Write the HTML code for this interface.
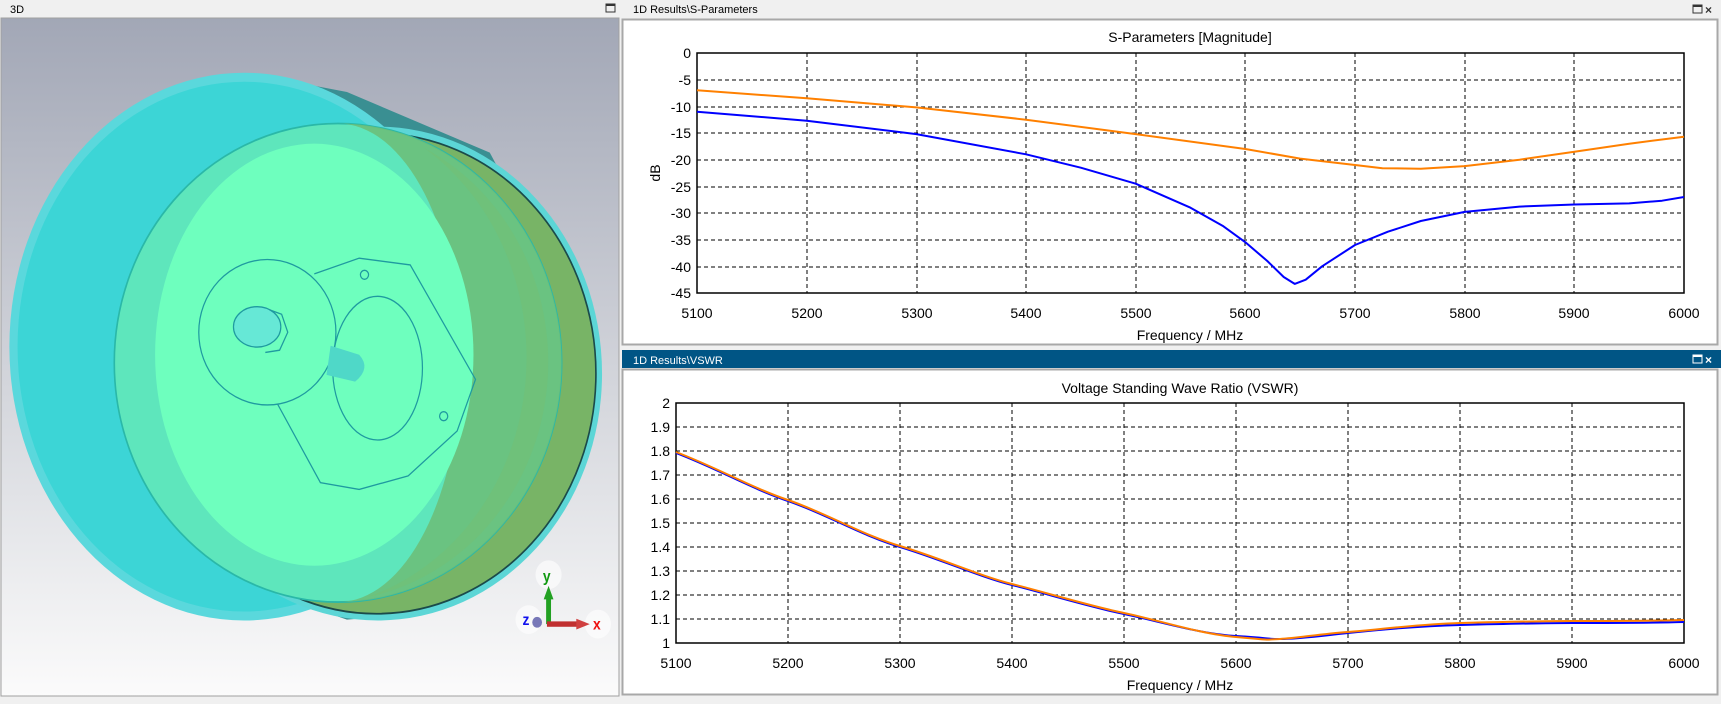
<!DOCTYPE html>
<html><head><meta charset="utf-8"><style>
html,body{margin:0;padding:0;background:#f0f0f0;}
svg{display:block;font-family:"Liberation Sans",sans-serif;}
</style></head><body>
<svg width="1721" height="704" viewBox="0 0 1721 704" xmlns="http://www.w3.org/2000/svg">
<defs>
<linearGradient id="bg" x1="0" y1="0" x2="0" y2="1">
<stop offset="0" stop-color="#a2a7b6"/><stop offset="0.55" stop-color="#d4d6dc"/><stop offset="1" stop-color="#fbfbfb"/>
</linearGradient>
</defs>
<rect x="0" y="0" width="1721" height="704" fill="#f0f0f0"/>
<text x="10" y="13" font-size="11" fill="#000">3D</text>
<rect x="606" y="4" width="9" height="8" fill="none" stroke="#333" stroke-width="1"/><rect x="606" y="4" width="9" height="2" fill="#333"/>
<rect x="1" y="18" width="618" height="678" fill="url(#bg)" stroke="#a0a0a0"/>
<svg x="0" y="0" width="640" height="704" viewBox="0 0 1568 1568" preserveAspectRatio="none">
 <path d="M620,165 L850,205 L1200,340 L1470,800 L1350,1180 L1000,1370 L850,1380 L400,1240 Z" fill="#3a8f92"/>
 <ellipse cx="598" cy="772" rx="575" ry="610" fill="#5ad8dc"/>
 <ellipse cx="598" cy="772" rx="555" ry="590" fill="#3cd5d6"/>
 <ellipse cx="925" cy="832" rx="550" ry="550" fill="#5cd6d6"/>
 <ellipse cx="922" cy="832" rx="538" ry="535" fill="#78b466" stroke="#1b4a4a" stroke-width="4"/>
 <ellipse cx="828" cy="808" rx="548" ry="533" fill="#5ee6bc" stroke="#2ab8a8" stroke-width="4"/>
 <path d="M828,275 A548,533 0 0 1 828,1341 A300,533 0 0 0 828,275 Z" fill="#6cbf7a" opacity="0.9"/>
 <ellipse cx="770" cy="790" rx="390" ry="470" fill="#6effbe"/>
 <path d="M1040,330 A548,533 0 0 1 900,1330 A560,560 0 0 0 1040,330 Z" fill="#70c078" opacity="0.8"/>
 <g fill="none" stroke="#1f9aa0" stroke-width="3">
  <ellipse cx="655" cy="740" rx="168" ry="162"/>
  <ellipse cx="925" cy="820" rx="110" ry="160"/>
  <path d="M770,610 L880,575 L1005,590 L1165,845 L1120,960 L1000,1060 L880,1090 L785,1075 L680,900"/>
  <circle cx="893" cy="612" r="10"/><circle cx="1087" cy="927" r="10"/>
 </g>
 <path d="M810,770 L880,790 Q910,820 870,850 L800,835 Z" fill="#4fd8c8"/>
 <ellipse cx="630" cy="728" rx="58" ry="45" fill="#66e8d6" stroke="#1f9aa0" stroke-width="3"/>
 <path d="M660,690 L690,700 L705,740 L685,780 L650,785" fill="none" stroke="#1f9aa0" stroke-width="3"/>
 <circle cx="1344" cy="1280" r="32" fill="#ffffff" opacity="0.6"/>
 <circle cx="1465" cy="1390" r="32" fill="#ffffff" opacity="0.6"/>
 <circle cx="1295" cy="1380" r="32" fill="#ffffff" opacity="0.6"/>
 <rect x="1338" y="1330" width="12" height="60" fill="#22a022"/>
 <path d="M1332,1335 L1344,1305 L1356,1335 Z" fill="#22a022"/>
 <rect x="1340" y="1384" width="80" height="12" fill="#c03030"/>
 <path d="M1412,1378 L1445,1390 L1412,1402 Z" fill="#d04040"/>
 <circle cx="1316" cy="1386" r="12" fill="#7878b8"/>
 <text x="1330" y="1295" font-size="34" font-weight="bold" fill="#119911">y</text>
 <text x="1453" y="1402" font-size="34" font-weight="bold" fill="#ee1111">x</text>
 <text x="1280" y="1392" font-size="34" font-weight="bold" fill="#1111ee">z</text>
</svg>

<rect x="622" y="0" width="1099" height="18" fill="#f0f0f0"/>
<text x="633" y="13" font-size="11" fill="#000">1D Results\S-Parameters</text>
<rect x="1693" y="5" width="9" height="8" fill="none" stroke="#333"/><rect x="1693" y="5" width="9" height="2" fill="#333"/>
<text x="1705" y="14" font-size="12" font-weight="bold" fill="#333">×</text>
<rect x="622.5" y="19.5" width="1095" height="325" fill="#fff" stroke="#a8a8a8" stroke-width="2"/>

<text x="1190" y="42" font-size="14" text-anchor="middle" fill="#000">S-Parameters [Magnitude]</text>
<g stroke="#000" stroke-width="1" stroke-dasharray="4,3" fill="none">
 <path d="M807,53V293M917,53V293M1026,53V293M1136,53V293M1245,53V293M1355,53V293M1465,53V293M1574,53V293"/>
 <path d="M697,80H1684M697,107H1684M697,133H1684M697,160H1684M697,187H1684M697,213H1684M697,240H1684M697,267H1684"/>
</g>
<rect x="697" y="53" width="987" height="240" fill="none" stroke="#000" stroke-width="1.5"/>
<g font-size="14" fill="#000" text-anchor="end">
<text x="691" y="58">0</text><text x="691" y="85">-5</text><text x="691" y="112">-10</text><text x="691" y="138">-15</text><text x="691" y="165">-20</text><text x="691" y="192">-25</text><text x="691" y="218">-30</text><text x="691" y="245">-35</text><text x="691" y="272">-40</text><text x="691" y="298">-45</text>
</g>
<text x="660" y="173" font-size="14" text-anchor="middle" transform="rotate(-90 660 173)">dB</text>
<g font-size="14" fill="#000" text-anchor="middle">
<text x="697" y="318">5100</text><text x="807" y="318">5200</text><text x="917" y="318">5300</text><text x="1026" y="318">5400</text><text x="1136" y="318">5500</text><text x="1245" y="318">5600</text><text x="1355" y="318">5700</text><text x="1465" y="318">5800</text><text x="1574" y="318">5900</text><text x="1684" y="318">6000</text>
</g>
<text x="1190" y="340" font-size="14" text-anchor="middle">Frequency / MHz</text>
<polyline fill="none" stroke="#ff8000" stroke-width="2" stroke-linejoin="round" points="697,90.3 806.7,98.3 916.3,107.4 1026,119.7 1135.7,134.1 1245.4,149 1300.2,158.6 1355,165 1382.4,168.2 1420.8,168.7 1464.7,166.1 1519.5,159.7 1574.4,151.7 1629.2,143.7 1684,136.7"/>
<polyline fill="none" stroke="#0000ff" stroke-width="2" stroke-linejoin="round" points="697,111.7 806.7,120.7 916.3,134.1 1026,154.3 1080.8,167.7 1135.7,183.7 1190.5,207.7 1223.4,226.3 1245.4,242.3 1267.3,261 1283.7,277 1294.7,283.9 1305.7,279.7 1322.1,266.3 1355,245 1387.9,231.7 1420.8,221 1464.7,211.9 1519.5,206.6 1574.4,204.5 1629.2,203.4 1662.1,200.7 1684,197"/>

<rect x="622" y="350" width="1099" height="18" fill="#005585"/>
<text x="633" y="364" font-size="11" fill="#fff">1D Results\VSWR</text>
<rect x="1693" y="355" width="9" height="8" fill="none" stroke="#fff"/><rect x="1693" y="355" width="9" height="2" fill="#fff"/>
<text x="1705" y="364" font-size="12" font-weight="bold" fill="#fff">×</text>
<rect x="622.5" y="369.5" width="1095" height="325" fill="#fff" stroke="#a8a8a8" stroke-width="2"/>

<text x="1180" y="393" font-size="14" text-anchor="middle">Voltage Standing Wave Ratio (VSWR)</text>
<g stroke="#000" stroke-width="1" stroke-dasharray="4,3" fill="none">
 <path d="M788,403V643M900,403V643M1012,403V643M1124,403V643M1236,403V643M1348,403V643M1460,403V643M1572,403V643"/>
 <path d="M676,427H1684M676,451H1684M676,475H1684M676,499H1684M676,523H1684M676,547H1684M676,571H1684M676,595H1684M676,619H1684"/>
</g>
<rect x="676" y="403" width="1008" height="240" fill="none" stroke="#000" stroke-width="1.5"/>
<g font-size="14" fill="#000" text-anchor="end">
<text x="670" y="408">2</text><text x="670" y="432">1.9</text><text x="670" y="456">1.8</text><text x="670" y="480">1.7</text><text x="670" y="504">1.6</text><text x="670" y="528">1.5</text><text x="670" y="552">1.4</text><text x="670" y="576">1.3</text><text x="670" y="600">1.2</text><text x="670" y="624">1.1</text><text x="670" y="648">1</text>
</g>
<g font-size="14" fill="#000" text-anchor="middle">
<text x="676" y="668">5100</text><text x="788" y="668">5200</text><text x="900" y="668">5300</text><text x="1012" y="668">5400</text><text x="1124" y="668">5500</text><text x="1236" y="668">5600</text><text x="1348" y="668">5700</text><text x="1460" y="668">5800</text><text x="1572" y="668">5900</text><text x="1684" y="668">6000</text>
</g>
<text x="1180" y="690" font-size="14" text-anchor="middle">Frequency / MHz</text>
<path fill="none" stroke="#0000ff" stroke-width="2" d="M676,453 C720,470 750,488 788,501 S860,535 900,547 S980,577 1012,585 S1090,607 1124,614 S1200,634 1236,636 S1262,639 1280,639 S1320,636 1348,633 S1420,626 1460,625 S1540,623 1572,623 S1650,623 1684,622"/>
<path fill="none" stroke="#ff8000" stroke-width="2" d="M676,452 C720,469 750,487 788,500 S860,534 900,546 S980,576 1012,584 S1090,606 1124,613 S1200,634 1236,637 S1262,640 1280,639 S1320,634 1348,632 S1420,624 1460,623 S1540,621 1572,621 S1650,621 1684,620"/>
</svg>
</body></html>
